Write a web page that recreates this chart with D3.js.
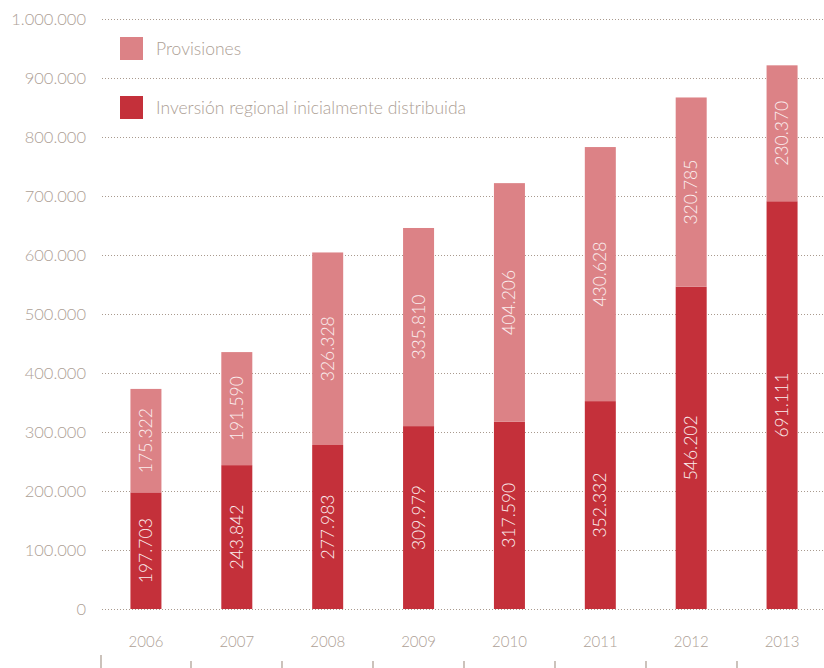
<!DOCTYPE html>
<html><head><meta charset="utf-8">
<script src="https://cdn.jsdelivr.net/npm/d3@7"></script>
<style>
html,body{margin:0;padding:0;background:#fff;}
svg{display:block;font-family:Lato,"Open Sans",sans-serif;}
</style></head>
<body><svg id="chart" width="824" height="668"></svg>
<script>
const years = ["2006","2007","2008","2009","2010","2011","2012","2013"];
const inversion = [197703,243842,277983,309979,317590,352332,546202,691111];
const provisiones = [175322,191590,326328,335810,404206,430628,320785,230370];
const yTicks = [0,100000,200000,300000,400000,500000,600000,700000,800000,900000,1000000];
const seriesNames = ["Provisiones","Inversión regional inicialmente distribuida"];
const colors = {inv:"#c4303a", prov:"#dc8286"};
const textCol = "#ada095";

const loc = d3.formatLocale({decimal:",",thousands:".",grouping:[3],currency:["",""]});
const fmt = loc.format(",d");

const svg = d3.select("#chart");
const x = d3.scaleBand().domain(years).range([100.5, 827.5]).paddingInner(0).paddingOuter(0);
const y = d3.scaleLinear().domain([0,1000000]).range([609,19]);
const barW = 31;
const FW = "300";

// gridlines
svg.append("g").selectAll("line").data(yTicks).join("line")
  .attr("x1",102).attr("x2",824)
  .attr("y1",d=>Math.round(y(d))+0.5).attr("y2",d=>Math.round(y(d))+0.5)
  .attr("stroke","#a99a8e").attr("stroke-width",1).attr("stroke-dasharray","1,2");

// y axis labels
const yAxis = d3.axisLeft(y).tickValues(yTicks).tickFormat(fmt).tickSize(0).tickPadding(0);
const gy = svg.append("g").attr("transform","translate(86,0)").call(yAxis);
gy.select(".domain").remove();
gy.selectAll("text").attr("fill",textCol).style("font-size","16.5px").style("font-family","Lato,'Open Sans',sans-serif").style("font-weight",FW);

// data rows
const rows = years.map((yr,i)=>({year:yr, inv:inversion[i], prov:provisiones[i]}));

const bars = svg.append("g");
bars.selectAll("rect.inv").data(rows).join("rect").attr("class","inv")
  .attr("x",d=>x(d.year)+(x.bandwidth()-barW)/2).attr("width",barW)
  .attr("y",d=>y(d.inv)).attr("height",d=>y(0)-y(d.inv)).attr("fill",colors.inv);
bars.selectAll("rect.prov").data(rows).join("rect").attr("class","prov")
  .attr("x",d=>x(d.year)+(x.bandwidth()-barW)/2).attr("width",barW)
  .attr("y",d=>y(d.inv+d.prov)).attr("height",d=>y(d.inv)-y(d.inv+d.prov)).attr("fill",colors.prov);

// labels inside bars
function addLabels(cls, getMid, getVal){
  svg.append("g").selectAll("text."+cls).data(rows).join("text").attr("class",cls)
    .attr("transform",d=>`translate(${x(d.year)+x.bandwidth()/2+6},${getMid(d)}) rotate(-90)`)
    .attr("text-anchor","middle")
    .attr("fill","#fbeeee")
    .style("font-size","17.5px").style("font-weight",FW)
    .text(d=>fmt(getVal(d)));
}
addLabels("linv", d=>(y(0)+y(d.inv))/2, d=>d.inv);
addLabels("lprov", d=>(y(d.inv)+y(d.inv+d.prov))/2, d=>d.prov);

// x axis labels
const xAxis = d3.axisBottom(x).tickSize(0).tickPadding(0);
const gx = svg.append("g").attr("transform","translate(0,636)").call(xAxis);
gx.select(".domain").remove();
gx.selectAll("text").attr("fill",textCol).style("font-size","15px").style("font-family","Lato,'Open Sans',sans-serif").style("font-weight",FW);

// bottom boundary ticks
const bounds = years.map(yr=>x(yr));
svg.append("g").selectAll("line").data(bounds).join("line")
  .attr("x1",d=>Math.round(d)).attr("x2",d=>Math.round(d))
  .attr("y1",(d,i)=>i===0?655:661).attr("y2",668)
  .attr("stroke","#a99a8e").attr("stroke-width",1.2);

// legend
const leg = svg.append("g");
const legItems = [{name:seriesNames[0], c:colors.prov, y:37},{name:seriesNames[1], c:colors.inv, y:96}];
leg.selectAll("rect").data(legItems).join("rect")
  .attr("x",120).attr("y",d=>d.y).attr("width",23).attr("height",23).attr("fill",d=>d.c);
leg.selectAll("text").data(legItems).join("text")
  .attr("x",156).attr("y",d=>d.y+18).attr("fill",textCol)
  .style("font-size","17.5px").style("font-weight",FW).text(d=>d.name);
</script></body></html>
